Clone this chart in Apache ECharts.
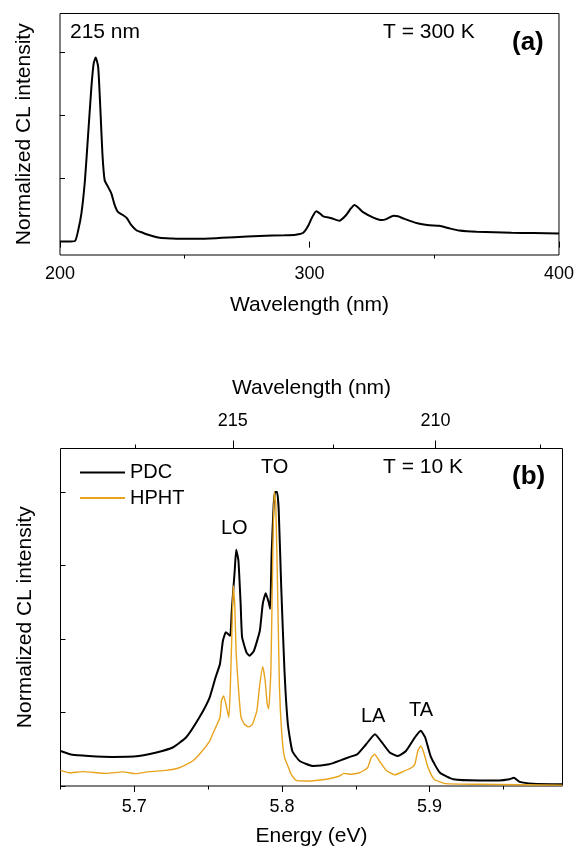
<!DOCTYPE html>
<html>
<head>
<meta charset="utf-8">
<script src="https://cdn.jsdelivr.net/npm/echarts@6/dist/echarts.min.js"></script>
<style>
html,body{margin:0;padding:0;background:#fff;}
#chart{width:577px;height:849px;}
</style>
</head>
<body>
<div id="chart"></div>
<script>
// ---------- Panel (a): T = 300 K, wavelength (nm) vs normalized intensity ----------
var waveA = [200,203,206,207.3,208.6,210,211.3,212.6,213.5,214.3,215.3,216.2,217,217.9,219.2,220.6,221.9,223.2,225.2,226.8,228.6,230.6,233.2,236,240,245,250,260,270,280,290,294.5,297.5,299.5,301,302.7,304,305.5,308.8,312,314.7,316.5,318,319.5,321.3,325.6,329,331,333.7,335.5,337.4,343.3,348,352,356,360,367,381,390,400];
var intensA = [0.00,0.00,0.01,0.18,0.45,0.97,1.71,2.45,2.82,2.91,2.76,2.08,1.39,0.97,0.87,0.76,0.58,0.47,0.42,0.37,0.26,0.18,0.14,0.10,0.06,0.05,0.045,0.05,0.07,0.09,0.10,0.11,0.14,0.25,0.38,0.48,0.45,0.40,0.37,0.33,0.42,0.52,0.58,0.54,0.47,0.38,0.34,0.36,0.41,0.40,0.37,0.29,0.26,0.25,0.21,0.175,0.155,0.14,0.135,0.13];
var waveMajorTicksA = [200,300,400];
var waveMinorTicksA = [250,350];
var intensTicksA = [0,1,2,3];

// ---------- Panel (b): T = 10 K, energy (eV) ----------
var energyPDC = [5.650,5.658,5.669,5.685,5.703,5.715,5.726,5.735,5.744,5.751,5.755,5.758,5.760,5.762,5.7635,5.765,5.766,5.768,5.769,5.7705,5.772,5.773,5.776,5.778,5.781,5.785,5.787,5.789,5.791,5.792,5.793,5.7944,5.7954,5.7967,5.7978,5.7995,5.8017,5.804,5.807,5.812,5.821,5.832,5.840,5.846,5.851,5.857,5.863,5.867,5.873,5.8785,5.884,5.890,5.894,5.897,5.901,5.907,5.916,5.934,5.947,5.954,5.957,5.961,5.970,5.990];
var intensPDC = [0.119,0.106,0.102,0.099,0.102,0.114,0.131,0.165,0.233,0.301,0.369,0.415,0.494,0.523,0.517,0.511,0.597,0.733,0.804,0.767,0.620,0.506,0.454,0.443,0.460,0.528,0.620,0.656,0.625,0.602,0.79,0.960,1.0,1.0,0.938,0.676,0.392,0.210,0.119,0.085,0.068,0.074,0.088,0.099,0.108,0.142,0.176,0.153,0.114,0.102,0.119,0.165,0.188,0.165,0.097,0.045,0.023,0.019,0.019,0.023,0.028,0.014,0.008,0.006];
var energyHPHT = [5.650,5.656,5.665,5.681,5.692,5.701,5.710,5.7215,5.7305,5.7395,5.746,5.751,5.753,5.758,5.759,5.7605,5.762,5.764,5.765,5.766,5.767,5.768,5.769,5.771,5.7723,5.7746,5.7775,5.780,5.783,5.785,5.787,5.7886,5.790,5.791,5.7925,5.7936,5.7947,5.7958,5.797,5.7983,5.7999,5.8017,5.804,5.8062,5.8096,5.8164,5.830,5.839,5.842,5.8458,5.8525,5.858,5.8605,5.8627,5.866,5.8706,5.8763,5.882,5.8876,5.890,5.892,5.894,5.896,5.899,5.903,5.911,5.934,5.990];
var intensHPHT = [0.053,0.045,0.049,0.043,0.048,0.042,0.049,0.053,0.062,0.085,0.119,0.153,0.176,0.233,0.290,0.306,0.279,0.233,0.335,0.506,0.682,0.620,0.449,0.301,0.233,0.210,0.201,0.210,0.256,0.347,0.406,0.358,0.279,0.262,0.392,0.733,1.0,0.960,0.676,0.335,0.176,0.097,0.068,0.040,0.019,0.017,0.023,0.034,0.043,0.040,0.045,0.062,0.097,0.108,0.085,0.053,0.038,0.049,0.062,0.074,0.119,0.136,0.114,0.062,0.023,0.008,0.006,0.003];
var energyMajorTicks = [5.7,5.8,5.9];
var energyMinorTicks = [5.65,5.75,5.85,5.95];
var waveMajorTicksB = [215,210];
var waveMinorTicksB = [217.5,212.5,207.5];
var intensTicksB = [0,0.25,0.5,0.75,1];

var HC = 1239.84; // eV*nm conversion for the top wavelength axis
function toE(w){ return HC / w; }
function zip(a,b){ return a.map(function(v,i){ return [v,b[i]]; }); }

var FONT = 'Liberation Sans, Arial, Helvetica, sans-serif';
var ORANGE = '#e8a31c';

var chart = echarts.init(document.getElementById('chart'), null, {renderer:'canvas'});

var eMin = 5.65, eMax = 5.99;

function txt(t, x, y, size, bold){
  return {type:'text', x:x, y:y, z:100, style:{text:t, fill:'#000', font:(bold?'bold ':'') + size + 'px ' + FONT, verticalAlign:'middle', align:'left'}};
}
function tickOnly(grid, pos, min, max, vals, len){
  return {gridIndex:grid, type:'value', position:pos, min:min, max:max,
    axisLine:{show:false}, splitLine:{show:false},
    axisTick:{show:true, inside:false, length:len, customValues:vals, lineStyle:{color:'#000'}},
    axisLabel:{show:false}};
}

var option = {
  backgroundColor:'#fff',
  animation:false,
  textStyle:{fontFamily:FONT, color:'#000'},
  grid:[
    {left:60, top:13.5, width:502, height:241.5, show:true, borderColor:'#000', borderWidth:1, backgroundColor:'transparent'},
    {left:60.5, top:448.5, width:502, height:337.5, show:true, borderColor:'#000', borderWidth:1, backgroundColor:'transparent'}
  ],
  legend:{
    data:['PDC','HPHT'], orient:'vertical', left:74, top:457.5,
    itemWidth:45, itemHeight:14, itemGap:5.6,
    itemStyle:{opacity:0},
    textStyle:{fontFamily:FONT, fontSize:20, color:'#000', lineHeight:20},
    selectedMode:false
  },
  xAxis:[
    {gridIndex:0, type:'value', position:'bottom', min:200, max:400,
     axisLine:{show:false}, splitLine:{show:false},
     axisTick:{show:true, inside:false, length:6, customValues:waveMajorTicksA, lineStyle:{color:'#000'}},
     axisLabel:{fontSize:18, color:'#000', margin:10, fontFamily:FONT, customValues:waveMajorTicksA},
     name:'Wavelength (nm)', nameLocation:'middle', nameGap:40,
     nameTextStyle:{fontSize:21, color:'#000', fontFamily:FONT}},
    tickOnly(0, 'bottom', 200, 400, waveMinorTicksA, 3.5),
    {gridIndex:1, type:'value', position:'bottom', min:eMin, max:eMax,
     axisLine:{show:false}, splitLine:{show:false},
     axisTick:{show:true, inside:false, length:6, customValues:energyMajorTicks, lineStyle:{color:'#000'}},
     axisLabel:{fontSize:18, color:'#000', margin:12, fontFamily:FONT, customValues:energyMajorTicks,
       formatter:function(v){ return v.toFixed(1); }},
     name:'Energy (eV)', nameLocation:'middle', nameGap:40,
     nameTextStyle:{fontSize:21, color:'#000', fontFamily:FONT}},
    tickOnly(1, 'bottom', eMin, eMax, energyMinorTicks, 3.5),
    {gridIndex:1, type:'value', position:'top', min:eMin, max:eMax,
     axisLine:{show:false}, splitLine:{show:false},
     axisTick:{show:true, inside:false, length:8, customValues:waveMajorTicksB.map(toE), lineStyle:{color:'#000'}},
     axisLabel:{fontSize:18, color:'#000', margin:18, fontFamily:FONT, customValues:waveMajorTicksB.map(toE),
       formatter:function(v){ return String(Math.round(HC / v)); }},
     name:'Wavelength (nm)', nameLocation:'middle', nameGap:50,
     nameTextStyle:{fontSize:21, color:'#000', fontFamily:FONT}},
    tickOnly(1, 'top', eMin, eMax, waveMinorTicksB.map(toE), 4)
  ],
  yAxis:[
    {gridIndex:0, type:'value', min:-0.2117, max:3.607,
     axisLine:{show:false}, splitLine:{show:false},
     axisTick:{show:true, inside:true, length:5, customValues:intensTicksA, lineStyle:{color:'#000'}},
     axisLabel:{show:false},
     name:'Normalized CL intensity', nameLocation:'middle', nameGap:25,
     nameTextStyle:{fontSize:21, color:'#000', fontFamily:FONT}},
    {gridIndex:1, type:'value', min:0, max:1.148,
     axisLine:{show:false}, splitLine:{show:false},
     axisTick:{show:true, inside:true, length:5, customValues:intensTicksB, lineStyle:{color:'#000'}},
     axisLabel:{show:false},
     name:'Normalized CL intensity', nameLocation:'middle', nameGap:25,
     nameTextStyle:{fontSize:21, color:'#000', fontFamily:FONT}}
  ],
  series:[
    {name:'300 K', type:'line', xAxisIndex:0, yAxisIndex:0, data:zip(waveA,intensA),
     symbol:'none', smooth:0.2, lineStyle:{color:'#000', width:2}, itemStyle:{color:'#000'}},
    {name:'PDC', type:'line', xAxisIndex:2, yAxisIndex:1, data:zip(energyPDC,intensPDC),
     symbol:'none', smooth:0.15, lineStyle:{color:'#000', width:2}, itemStyle:{color:'#000'}, z:2},
    {name:'HPHT', type:'line', xAxisIndex:2, yAxisIndex:1, data:zip(energyHPHT,intensHPHT),
     symbol:'none', smooth:0.15, lineStyle:{color:ORANGE, width:1.4}, itemStyle:{color:ORANGE}, z:3}
  ],
  graphic:[
    txt('215 nm', 70, 32, 21),
    txt('T = 300 K', 383, 32, 21),
    txt('(a)', 512, 43, 26, true),
    txt('TO', 261, 467, 20),
    txt('T = 10 K', 383, 467, 21),
    txt('(b)', 512, 477, 26, true),
    txt('LO', 221, 528, 20),
    txt('LA', 361, 716, 20),
    txt('TA', 409, 710, 20)
  ]
};
chart.setOption(option);
</script>
</body>
</html>
